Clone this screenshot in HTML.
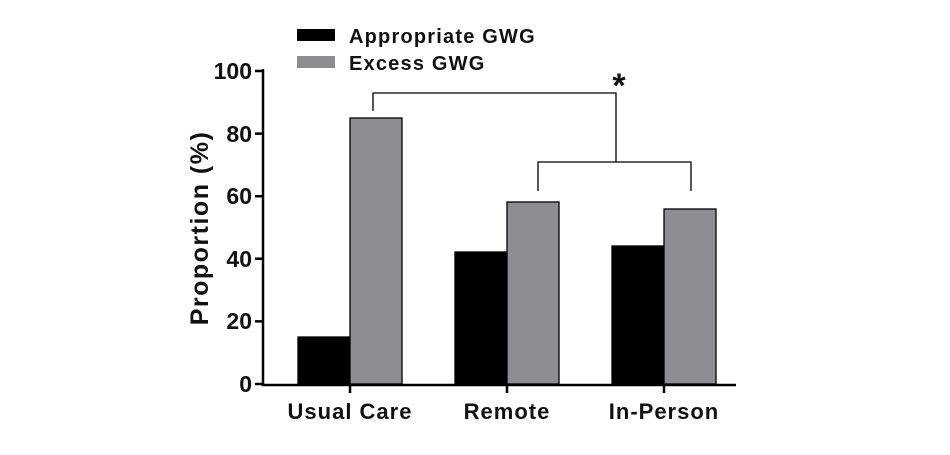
<!DOCTYPE html>
<html><head><style>body{margin:0;background:#fff}</style></head><body>
<svg width="950" height="450" xmlns="http://www.w3.org/2000/svg" font-family="Liberation Sans, sans-serif" font-weight="bold">
<rect width="950" height="450" fill="#fff"/>
<!-- legend -->
<rect x="297" y="29" width="38" height="12" fill="#000"/>
<text x="349" y="43" font-size="20" letter-spacing="1.2" fill="#111">Appropriate GWG</text>
<rect x="297" y="56" width="38" height="12" fill="#8e8d92"/>
<text x="349" y="70" font-size="20" letter-spacing="1.2" fill="#111">Excess GWG</text>
<!-- bars -->
<g stroke="#000" stroke-width="1.3">
<rect x="298" y="337" width="52" height="47" fill="#000"/>
<rect x="350" y="118" width="52" height="266" fill="#8e8d92"/>
<rect x="455" y="252" width="52" height="132" fill="#000"/>
<rect x="507" y="202" width="52" height="182" fill="#8e8d92"/>
<rect x="612" y="246" width="52" height="138" fill="#000"/>
<rect x="664" y="209" width="52" height="175" fill="#8e8d92"/>
</g>
<!-- axes -->
<g stroke="#000" stroke-width="2.5" fill="none">
<path d="M263 69 V385 H736"/>
<path d="M255 71 H263 M255 133.6 H263 M255 196.2 H263 M255 258.8 H263 M255 321.4 H263 M255 384 H263"/>
<path d="M350 385 V393 M507 385 V393 M664 385 V393"/>
</g>
<g font-size="23" text-anchor="end" fill="#111">
<text x="252" y="79">100</text><text x="252" y="142">80</text><text x="252" y="204">60</text>
<text x="252" y="267">40</text><text x="252" y="329">20</text><text x="252" y="392">0</text>
</g>
<g font-size="22" text-anchor="middle" fill="#111" letter-spacing="1">
<text x="350" y="419">Usual Care</text><text x="507" y="419">Remote</text><text x="664" y="419">In-Person</text>
</g>
<text transform="translate(208,228) rotate(-90)" font-size="25" letter-spacing="1.5" text-anchor="middle" fill="#111">Proportion (%)</text>
<!-- brackets -->
<g stroke="#000" stroke-width="1.3" fill="none">
<path d="M373 111 V93 H616 V162"/>
<path d="M538 191 V162 H691 V191"/>
</g>
<text x="619" y="97" font-size="34" text-anchor="middle" fill="#111">*</text>
</svg>
</body></html>
